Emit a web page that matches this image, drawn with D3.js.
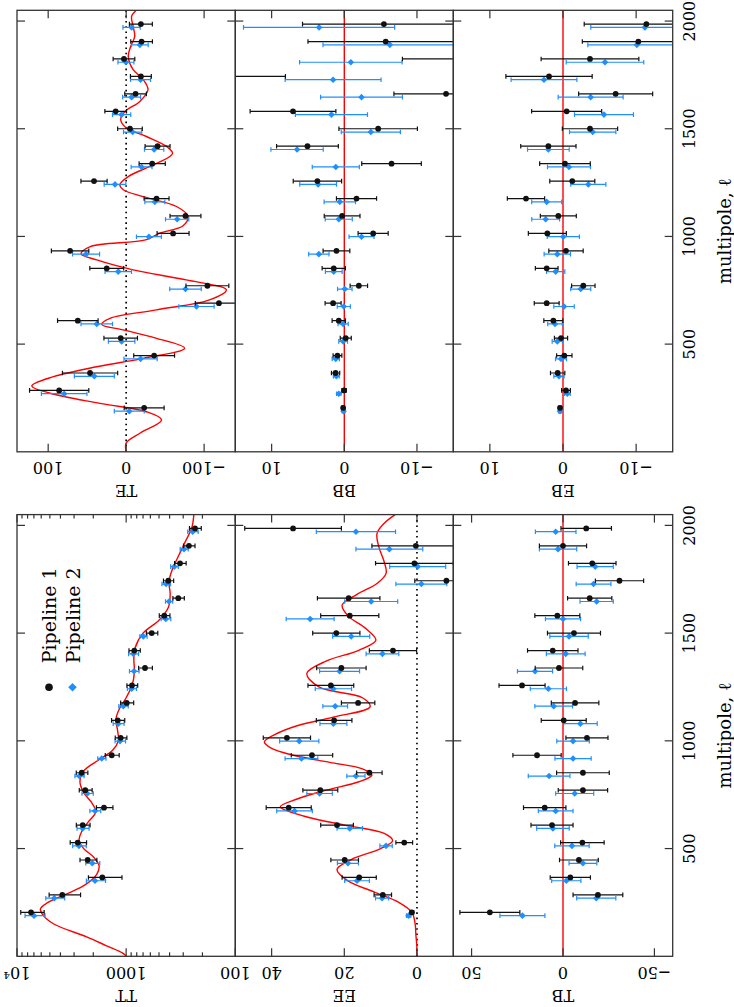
<!DOCTYPE html>
<html><head><meta charset="utf-8">
<script src="https://cdn.jsdelivr.net/npm/d3@7"></script>
<style>body{margin:0;background:#fff} svg{display:block}</style>
</head><body>
<svg id="chart" width="734" height="1007"></svg>
<script>
// ---------------- DATA ----------------
const ells = [204, 285, 366, 447, 528, 609, 690, 771, 852, 933, 1014, 1095, 1176, 1257, 1338, 1419, 1500, 1581, 1662, 1743, 1824, 1905, 1986];
const ellTicks = [500, 1000, 1500, 2000];
const ellTickLabels = ["500", "1000", "1500", "2000"];
const seriesNames = ["Pipeline 1", "Pipeline 2"];

// TT
const ttP1 = [7440, 3846, 1654, 2251, 2780, 2501, 1596, 2368, 2554, 1356, 1122, 1195, 988, 884, 672, 842, 583, 447, 333, 411, 321, 266, 234];
const ttP1Err = [1800, 1230, 562, 396, 475, 360, 275, 320, 310, 198, 137, 165, 135, 100, 97, 100, 70, 50, 40, 44, 39, 32, 29];
const ttP2 = [6987, 4552, 1929, 2043, 2704, 2501, 1929, 2270, 2687, 1675, 1138, 1180, 1062, 890, 847, 860, 696, 434, 405, 431, 362, 295, 246];
const ttP2Err = [1450, 895, 385, 300, 385, 315, 220, 270, 260, 145, 125, 135, 105, 85, 85, 90, 53, 44, 31, 39, 29, 25, 27];
const ttTheoryEll = [2, 15, 50, 90, 150, 190, 220, 250, 290, 330, 380, 420, 460, 500, 540, 580, 620, 670, 710, 760, 810, 860, 910, 956, 1000, 1050, 1100, 1150, 1200, 1260, 1320, 1380, 1430, 1500, 1560, 1620, 1680, 1740, 1800, 1860, 1920, 1990, 2050];
const ttTheory = [1000, 1075, 1530, 2300, 4600, 5750, 6100, 5200, 3500, 2400, 1860, 1770, 1980, 2450, 2700, 2550, 2250, 1900, 2050, 2450, 2650, 2450, 1800, 1330, 1180, 1200, 1240, 1150, 1000, 880, 840, 850, 830, 700, 500, 410, 395, 405, 375, 330, 290, 250, 240];
const ttTicks = [10000, 1000, 100];
const ttTickLabels = ["10⁴", "1000", "100"];
const ttMinorTicks = [200, 300, 400, 500, 600, 700, 800, 900, 2000, 3000, 4000, 5000, 6000, 7000, 8000, 9000];

// EE
const eeP1 = [1.4, 9.4, 15.9, 19.9, 3.5, 22.0, 35.3, 26.6, 13.1, 28.9, 35.8, 22.8, 16.2, 23.7, 20.8, 6.6, 22.2, 18.5, 18.8, -8.1, 0.7, 0.3, 34.1];
const eeP1Err = [0.5, 2.4, 4.7, 3.8, 2.3, 4.5, 6.2, 4.8, 3.5, 5.7, 6.5, 4.9, 4.6, 6.3, 6.8, 6.5, 6.5, 8.0, 8.6, 8.7, 10.7, 12.1, 13.3];
const eeP2 = [2.3, 9.6, 16.5, 19.0, 8.5, 18.5, 33.7, 26.8, 16.8, 31.8, 32.4, 23.0, 22.5, 23.0, 21.3, 9.5, 18.1, 29.4, 12.6, -1.2, -0.2, 7.6, 16.8];
const eeP2Err = [0.6, 1.8, 3.4, 2.9, 1.7, 3.5, 4.9, 3.5, 2.5, 4.5, 5.4, 3.7, 3.4, 5.0, 5.5, 4.5, 5.1, 6.6, 7.3, 7.0, 7.7, 9.2, 10.9];
const eeTheoryEll = [2, 50, 100, 150, 204, 250, 300, 350, 403, 450, 500, 536, 570, 609, 650, 694, 730, 771, 810, 841, 870, 900, 933, 965, 995, 1030, 1070, 1110, 1158, 1200, 1250, 1313, 1370, 1420, 1467, 1520, 1580, 1630, 1680, 1730, 1777, 1830, 1900, 1962, 2010, 2050];
const eeTheory = [0, 0.05, 0.3, 0.5, 1.4, 5, 12, 19, 22, 18, 10, 6.7, 9, 20, 31, 37.6, 33, 25, 16, 12.4, 15, 24, 34, 40, 42, 39, 33, 23, 12.9, 15, 27, 30.3, 25, 16, 11.3, 14, 19, 20.6, 16.5, 11, 8.5, 9, 10.5, 11, 9, 6];
const eeTicks = [40, 20, 0];
const eeTickLabels = ["40", "20", "0"];

// TB
const tbP1 = [40.0, -19.1, -4.0, -8.7, -10.6, 6.0, 10.0, -10.9, -10.9, 14.2, -13.1, -0.4, -6.6, 22.4, 2.2, 5.6, -6.0, 3.1, -14.6, -30.9, -16.0, 0.0, -12.7];
const tbP1Err = [16.4, 13.6, 11.0, 10.6, 11.9, 11.5, 11.6, 13.5, 14.4, 13.2, 11.5, 12.3, 13.0, 12.6, 13.0, 13.8, 14.5, 12.3, 12.1, 13.2, 13.0, 12.9, 13.8];
const tbP2 = [22.2, -18.2, -1.8, -10.9, -4.9, 5.5, 4.0, -6.4, 7.6, -5.5, -5.5, -9.5, 5.1, 8.0, 15.3, -1.5, -3.3, 0.0, -18.4, -16.7, -17.6, 2.7, 4.0];
const tbP2Err = [12.3, 10.7, 8.0, 7.6, 9.4, 8.9, 9.5, 10.4, 11.4, 9.9, 8.9, 9.2, 10.3, 9.9, 9.6, 10.6, 10.5, 9.6, 9.1, 9.5, 9.9, 10.2, 11.1];
const tbTicks = [50, 0, -50];
const tbTickLabels = ["50", "0", "−50"];

// TE
const teP1 = [-23.1, 85.9, 46.3, -35.9, 7.0, 62.0, -119, -104.2, 24.9, 71.9, -60.2, -76.1, -39, 41.2, -33.4, -40.3, -4.9, 13.4, -12.1, -18.9, 2.8, -19.8, -18.9];
const teP1Err = [25.6, 38, 35.4, 26.2, 21.5, 26, 30.3, 27.5, 21.7, 24, 20.5, 19.8, 16, 16.8, 16.8, 16, 15.8, 13.9, 13.9, 13.4, 13.9, 13.9, 14.7];
const teP2 = [-4.0, 79.5, 40.8, -18.5, 5.8, 37.7, -90.2, -76.1, 10.1, 51.4, -29.2, -65.4, -36.8, 14.3, -19.8, -35.9, -8.3, 5.8, -7.0, -18.5, 0.3, -17.6, -7.0];
const teP2Err = [19.2, 29.2, 25.6, 21.3, 17, 20.2, 22.6, 20.2, 17, 17.3, 16, 14.9, 12.8, 13.9, 13.4, 12.4, 11.7, 11.7, 11.5, 12.8, 10.2, 10.7, 11.1];
const teTheoryEll = [2, 40, 86, 148, 186, 225, 272, 306, 349, 395, 434, 481, 527, 566, 592, 620, 659, 705, 752, 798, 845, 891, 919, 953, 984, 1015, 1050, 1093, 1139, 1185, 1217, 1240, 1278, 1325, 1371, 1387, 1418, 1464, 1503, 1542, 1580, 1627, 1681, 1728, 1774, 1836, 1882, 1929, 1975, 2022, 2050];
const teTheory = [0, 0, -17.6, -45.4, -26, 33.5, 97.4, 121, 93, 37.7, -21.9, -75, -39, 3.7, 31.3, 20.7, -39, -107, -128.5, -77, -9, 37.7, 57.8, 46, -25, -43, -73, -79.4, -64.6, -21.9, 3.7, 8, -2.7, -30.4, -56, -59.5, -51.8, -26, -0.6, 7, 1.5, -17.6, -28, -22, -9, -2.7, -5.8, -11, -9, -7, -13];
const teTicks = [100, 0, -100];
const teTickLabels = ["100", "0", "−100"];

// BB
const bbP1 = [0.16, 0.03, 1.2, 0.94, -0.2, 0.76, 1.54, -2.0, 1.45, 1.08, -3.97, 0.3, -1.68, 3.7, -6.5, 5.07, -4.66, 7.06, -14.0, 17.0, -17.5, -5.7, -5.45];
const bbP1Err = [0.2, 0.3, 0.57, 0.6, 0.76, 0.92, 1.1, 1.2, 1.6, 1.84, 2.07, 2.46, 2.76, 3.33, 4.1, 4.25, 5.4, 5.9, 7.17, 8.9, 9.5, 10.7, 11.2];
const bbP2 = [0.1, 0.76, 1.1, 1.17, 0.16, 0.16, 0.07, -0.07, 1.45, 3.5, -2.37, 0.76, 0.62, 3.6, 1.17, 6.5, -3.65, 1.77, -2.37, 1.54, -0.9, -6.27, 3.47];
const bbP2Err = [0.2, 0.3, 0.4, 0.5, 0.6, 0.7, 0.9, 1.0, 1.15, 1.4, 1.72, 1.86, 2.16, 2.53, 3.24, 3.6, 4.07, 4.96, 5.63, 6.6, 7.05, 9.2, 10.4];
const bbTicks = [10, 0, -10];
const bbTickLabels = ["10", "0", "−10"];

// EB
const ebP1 = [0.41, -0.41, 0.73, -0.18, 0.27, 1.32, 2.23, -2.78, 2.23, -0.41, 2.14, 0.64, 5.06, -1.27, -0.27, 2.0, -3.69, -0.5, -7.2, 1.91, -3.69, -10.3, -11.4];
const ebP1Err = [0.2, 0.6, 0.98, 1.05, 0.9, 1.3, 1.7, 1.6, 1.55, 2.35, 2.6, 2.46, 2.55, 3.08, 3.46, 3.78, 3.78, 4.79, 5.06, 5.9, 6.68, 7.66, 8.5];
const ebP2 = [0.41, -0.59, 0.55, 0.27, 0.78, 1.09, -0.14, -2.42, 1.0, 0.78, -0.04, 2.37, 2.23, -3.46, -0.82, 2.0, -4.06, -5.6, -3.78, 2.6, -5.74, -10.1, -11.2];
const ebP2Err = [0.2, 0.4, 0.7, 0.75, 0.7, 1.0, 1.4, 1.37, 1.25, 1.8, 2.2, 1.9, 2.05, 2.4, 2.94, 2.85, 3.17, 4.03, 4.44, 4.5, 5.3, 6.7, 7.4];
const ebTicks = [10, 0, -10];
const ebTickLabels = ["10", "0", "−10"];

// ---------------- LAYOUT / STYLE ----------------
const FONT = "'DejaVu Serif', 'Liberation Serif', serif";
const BLUE = "#1e8fff";
const BLACK = "#111";
const RED = "#ff0000";
const FRAME = "#333";
const colX = [17, 235.3, 453.3, 672.7];
const halves = {
  left:  {y0: 956.3, y1: 514.6},
  right: {y0: 451.8, y1: 10.3}
};
const ellDomain = [0, 2050];
const P2_OFFSET = 3.3;

const panels = [
  {name: "TT", half: "left", row: 0, log: true, domain: [100, 10000], ticks: ttTicks, tickLabels: ttTickLabels, minor: ttMinorTicks,
   p1: ttP1, e1: ttP1Err, p2: ttP2, e2: ttP2Err, thL: ttTheoryEll, th: ttTheory, zero: null, legend: true},
  {name: "EE", half: "left", row: 1, domain: [-10, 50], ticks: eeTicks, tickLabels: eeTickLabels,
   p1: eeP1, e1: eeP1Err, p2: eeP2, e2: eeP2Err, thL: eeTheoryEll, th: eeTheory, zero: "dot"},
  {name: "TB", half: "left", row: 2, domain: [-60, 60], ticks: tbTicks, tickLabels: tbTickLabels,
   p1: tbP1, e1: tbP1Err, p2: tbP2, e2: tbP2Err, zero: "red"},
  {name: "TE", half: "right", row: 0, domain: [-140, 140], ticks: teTicks, tickLabels: teTickLabels,
   p1: teP1, e1: teP1Err, p2: teP2, e2: teP2Err, thL: teTheoryEll, th: teTheory, zero: "dot"},
  {name: "BB", half: "right", row: 1, domain: [-15, 15], ticks: bbTicks, tickLabels: bbTickLabels,
   p1: bbP1, e1: bbP1Err, p2: bbP2, e2: bbP2Err, zero: "red"},
  {name: "EB", half: "right", row: 2, domain: [-15, 15], ticks: ebTicks, tickLabels: ebTickLabels,
   p1: ebP1, e1: ebP1Err, p2: ebP2, e2: ebP2Err, zero: "red"}
];

const svg = d3.select("#chart");
const defs = svg.append("defs");
const diamond = r => `M0,${-r}L${r},0L0,${r}L${-r},0Z`;

function drawSeries(g, xs, ys, vals, errs, color, marker, dy) {
  const sg = g.append("g");
  vals.forEach((v, i) => {
    const y = ys(ells[i]) + dy;
    const xa = xs(v - errs[i]), xb = xs(v + errs[i]);
    sg.append("line").attr("x1", xa).attr("x2", xb).attr("y1", y).attr("y2", y)
      .attr("stroke", color).attr("stroke-width", 1.2);
    [xa, xb].forEach(xc => sg.append("line").attr("x1", xc).attr("x2", xc)
      .attr("y1", y - 2.3).attr("y2", y + 2.3).attr("stroke", color).attr("stroke-width", 1.2));
  });
  vals.forEach((v, i) => {
    const y = ys(ells[i]) + dy;
    if (marker === "circle") sg.append("circle").attr("cx", xs(v)).attr("cy", y).attr("r", 2.9).attr("fill", color);
    else sg.append("path").attr("d", diamond(3.3)).attr("transform", `translate(${xs(v)},${y})`).attr("fill", color);
  });
}

panels.forEach(p => {
  const x0 = colX[p.row], x1 = colX[p.row + 1];
  const h = halves[p.half];
  const xs = (p.log ? d3.scaleLog() : d3.scaleLinear()).domain(p.domain).range([x1, x0]);
  const ys = d3.scaleLinear().domain(ellDomain).range([h.y0, h.y1]);
  const cid = "clip" + p.name;
  defs.append("clipPath").attr("id", cid).append("rect")
    .attr("x", x0).attr("y", h.y1).attr("width", x1 - x0).attr("height", h.y0 - h.y1);
  const g = svg.append("g");
  const inner = g.append("g").attr("clip-path", `url(#${cid})`);

  if (p.zero === "red") {
    inner.append("line").attr("x1", xs(0)).attr("x2", xs(0)).attr("y1", h.y1).attr("y2", h.y0)
      .attr("stroke", RED).attr("stroke-width", 1.4);
  } else if (p.zero === "dot") {
    inner.append("line").attr("x1", xs(0)).attr("x2", xs(0)).attr("y1", h.y0).attr("y2", h.y1)
      .attr("stroke", "#000").attr("stroke-width", 1.7).attr("stroke-dasharray", "1.6,3.7");
  }
  if (p.thL) {
    inner.append("path").datum(d3.zip(p.thL, p.th))
      .attr("d", d3.line().x(d => xs(d[1])).y(d => ys(d[0])).curve(d3.curveCatmullRom.alpha(0.5)))
      .attr("fill", "none").attr("stroke", RED).attr("stroke-width", 1.4);
  }
  drawSeries(inner, xs, ys, p.p2, p.e2, BLUE, "diamond", P2_OFFSET);
  drawSeries(inner, xs, ys, p.p1, p.e1, BLACK, "circle", 0);

  // frame
  g.append("rect").attr("x", x0).attr("y", h.y1).attr("width", x1 - x0).attr("height", h.y0 - h.y1)
    .attr("fill", "none").attr("stroke", FRAME).attr("stroke-width", 1.3);
  // value ticks
  const tick = (t, len) => {
    g.append("line").attr("x1", xs(t)).attr("x2", xs(t)).attr("y1", h.y0).attr("y2", h.y0 - len).attr("stroke", FRAME).attr("stroke-width", 1.2);
    g.append("line").attr("x1", xs(t)).attr("x2", xs(t)).attr("y1", h.y1).attr("y2", h.y1 + len).attr("stroke", FRAME).attr("stroke-width", 1.2);
  };
  p.ticks.forEach(t => tick(t, 8));
  (p.minor || []).forEach(t => tick(t, 4));
  // ell ticks
  ellTicks.forEach(t => {
    g.append("line").attr("x1", x0).attr("x2", x0 + 8).attr("y1", ys(t)).attr("y2", ys(t)).attr("stroke", FRAME).attr("stroke-width", 1.2);
    g.append("line").attr("x1", x1).attr("x2", x1 - 8).attr("y1", ys(t)).attr("y2", ys(t)).attr("stroke", FRAME).attr("stroke-width", 1.2);
  });
  // value tick labels (rotated 180)
  p.ticks.forEach((t, i) => {
    const tx = xs(t), ty = h.y0 + 16;
    g.append("text").attr("transform", `translate(${tx},${ty}) rotate(180)`)
      .attr("text-anchor", "middle").attr("dominant-baseline", "central")
      .attr("font-family", FONT).attr("font-size", 16).attr("fill", "#000").text(p.tickLabels[i]);
  });
  // panel label
  g.append("text").attr("transform", `translate(${(x0 + x1) / 2},${h.y0 + 39}) rotate(180)`)
    .attr("text-anchor", "middle").attr("dominant-baseline", "central")
    .attr("font-family", FONT).attr("font-size", 16).attr("fill", "#000").text(p.name);

  // legend
  if (p.legend) {
    const ly = 687.3;
    g.append("circle").attr("cx", 49).attr("cy", ly).attr("r", 3.8).attr("fill", BLACK);
    g.append("path").attr("d", diamond(4.3)).attr("transform", `translate(72.5,${ly})`).attr("fill", BLUE);
    [[49, seriesNames[0]], [72.5, seriesNames[1]]].forEach(([lx, txt]) => {
      g.append("text").attr("transform", `translate(${lx},${ly - 24}) rotate(-90)`)
        .attr("text-anchor", "start").attr("dominant-baseline", "central")
        .attr("font-family", FONT).attr("font-size", 19).attr("fill", "#000")
        .attr("textLength", 96).attr("lengthAdjust", "spacingAndGlyphs").text(txt);
    });
  }
});

// ell axis labels for each half
Object.values(halves).forEach(h => {
  const ys = d3.scaleLinear().domain(ellDomain).range([h.y0, h.y1]);
  ellTicks.forEach((t, i) => {
    svg.append("text").attr("transform", `translate(689,${ys(t)}) rotate(-90)`)
      .attr("text-anchor", "middle").attr("dominant-baseline", "central")
      .attr("font-family", FONT).attr("font-size", 16).attr("fill", "#000").text(ellTickLabels[i]);
  });
  svg.append("text").attr("transform", `translate(724,${(h.y0 + h.y1) / 2}) rotate(-90)`)
    .attr("text-anchor", "middle").attr("dominant-baseline", "central")
    .attr("font-family", FONT).attr("font-size", 18).attr("fill", "#000")
    .attr("textLength", 106).attr("lengthAdjust", "spacingAndGlyphs").text("multipole, ℓ");
});
</script>
</body></html>
